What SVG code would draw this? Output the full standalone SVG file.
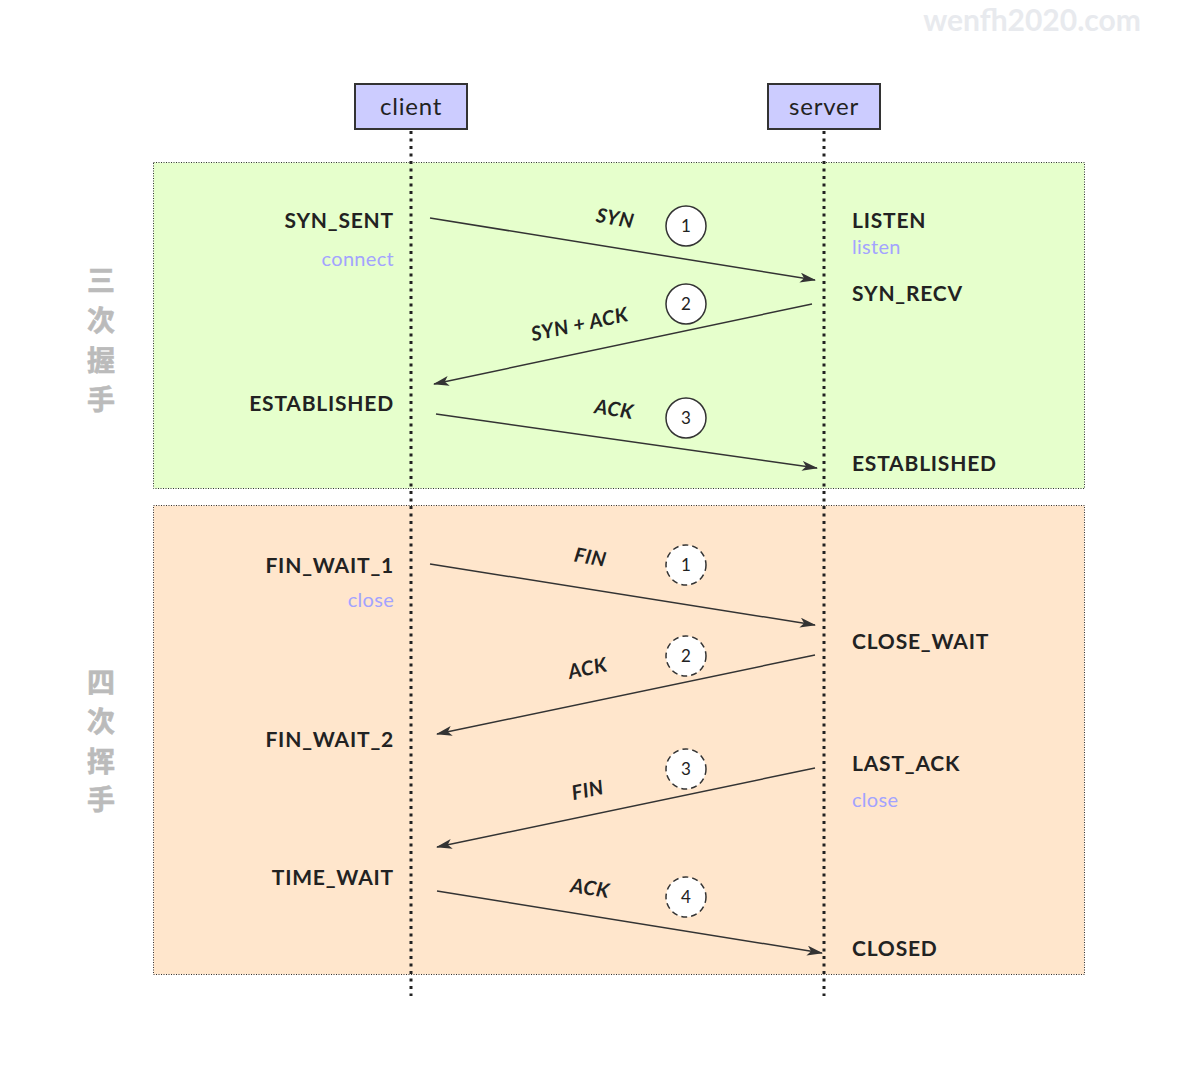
<svg xmlns="http://www.w3.org/2000/svg" width="1197" height="1066" viewBox="0 0 1197 1066">
<style>
.t{font-family:"Lato","Noto Sans",sans-serif;font-size:21px;fill:#222;font-weight:bold;letter-spacing:0.8px}
.r{text-anchor:end}
.f{fill:#a3a3ff;font-weight:normal;font-size:20px;letter-spacing:0.3px}
.lbl{font-family:"Lato","Noto Sans",sans-serif;font-size:20px;fill:#222;font-style:italic;font-weight:bold;text-anchor:middle;letter-spacing:0.5px}
.num{font-family:"Lato","Noto Sans",sans-serif;font-size:17px;fill:#222;text-anchor:middle}
.c{fill:#fff;stroke:#333;stroke-width:1.5}
.cd{fill:#fff;stroke:#333;stroke-width:1.5;stroke-dasharray:6 4}
.msg{stroke:#333;stroke-width:1.5;fill:none;marker-end:url(#ah)}
.life{stroke:#222;stroke-width:3;stroke-dasharray:3 4.5}
.side{font-family:"Noto Sans CJK SC",sans-serif;font-size:28px;font-weight:bold;fill:#bbb;stroke:#bbb;stroke-width:0.6;text-anchor:middle}
</style>
<defs>
<marker id="ah" viewBox="0 0 16 10" refX="15" refY="5" markerWidth="16" markerHeight="10" markerUnits="userSpaceOnUse" orient="auto">
<path d="M0,0 L16,5 L0,10 L4,5 Z" fill="#333"/>
</marker>
</defs>
<rect width="1197" height="1066" fill="#fff"/>
<text x="1032" y="31" font-family="Lato,sans-serif" font-size="30" font-weight="bold" fill="#e8eaee" text-anchor="middle">wenfh2020.com</text>
<g id="phase-handshake">
<rect x="153.5" y="162.5" width="931" height="326" fill="#e6ffcc" stroke="#333" stroke-width="1" stroke-dasharray="1 1.5"/>
<text class="side" x="101" y="291">三</text>
<text class="side" x="101" y="331">次</text>
<text class="side" x="101" y="371">握</text>
<text class="side" x="101" y="410">手</text>
</g>
<g id="phase-wave">
<rect x="153.5" y="505.5" width="931" height="469" fill="#ffe6cc" stroke="#333" stroke-width="1" stroke-dasharray="1 1.5"/>
<text class="side" x="101" y="693">四</text>
<text class="side" x="101" y="732">次</text>
<text class="side" x="101" y="772">挥</text>
<text class="side" x="101" y="810">手</text>
</g>
<g id="lifelines">
<line class="life" x1="411" y1="131" x2="411" y2="996"/>
<line class="life" x1="824" y1="131" x2="824" y2="996"/>
</g>
<g id="client">
<rect x="355" y="84" width="112" height="45" fill="#ccccff" stroke="#333" stroke-width="2"/>
<text class="t" x="411" y="115" text-anchor="middle" style="font-size:24px;font-weight:normal">client</text>
</g>
<g id="server">
<rect x="768" y="84" width="112" height="45" fill="#ccccff" stroke="#333" stroke-width="2"/>
<text class="t" x="824" y="115" text-anchor="middle" style="font-size:24px;font-weight:normal">server</text>
</g>
<g id="client-states">
<text class="t r" x="394" y="228">SYN_SENT</text>
<text class="t r f" x="394" y="266">connect</text>
<text class="t r" x="394" y="411">ESTABLISHED</text>
<text class="t r" x="394" y="573">FIN_WAIT_1</text>
<text class="t r f" x="394" y="607">close</text>
<text class="t r" x="394" y="747">FIN_WAIT_2</text>
<text class="t r" x="394" y="885">TIME_WAIT</text>
</g>
<g id="server-states">
<text class="t" x="852" y="228">LISTEN</text>
<text class="t f" x="852" y="254">listen</text>
<text class="t" x="852" y="301">SYN_RECV</text>
<text class="t" x="852" y="471">ESTABLISHED</text>
<text class="t" x="852" y="649">CLOSE_WAIT</text>
<text class="t" x="852" y="771">LAST_ACK</text>
<text class="t f" x="852" y="807">close</text>
<text class="t" x="852" y="956">CLOSED</text>
</g>
<g id="connectors">
<line class="msg" x1="430" y1="218" x2="815" y2="280"/>
<line class="msg" x1="812" y1="304" x2="434" y2="384"/>
<line class="msg" x1="436" y1="414" x2="817" y2="468"/>
<line class="msg" x1="430" y1="564" x2="815" y2="625"/>
<line class="msg" x1="815" y1="655" x2="437" y2="734"/>
<line class="msg" x1="815" y1="768" x2="437" y2="847"/>
<line class="msg" x1="437" y1="891" x2="822" y2="953"/>
</g>
<g id="labels">
<text class="lbl" transform="translate(614,225) rotate(10)">SYN</text>
<text class="lbl" transform="translate(581,331) rotate(-12)">SYN + ACK</text>
<text class="lbl" transform="translate(613,416) rotate(9)">ACK</text>
<text class="lbl" transform="translate(589,564) rotate(10)">FIN</text>
<text class="lbl" transform="translate(589,675) rotate(-12)">ACK</text>
<text class="lbl" transform="translate(589,797) rotate(-12)">FIN</text>
<text class="lbl" transform="translate(589,895) rotate(9)">ACK</text>
</g>
<g id="steps">
<circle class="c" cx="686" cy="226" r="20"/><text class="num" x="686" y="232">1</text>
<circle class="c" cx="686" cy="304" r="20"/><text class="num" x="686" y="310">2</text>
<circle class="c" cx="686" cy="418" r="20"/><text class="num" x="686" y="424">3</text>
<circle class="cd" cx="686" cy="565" r="20"/><text class="num" x="686" y="571">1</text>
<circle class="cd" cx="686" cy="656" r="20"/><text class="num" x="686" y="662">2</text>
<circle class="cd" cx="686" cy="769" r="20"/><text class="num" x="686" y="775">3</text>
<circle class="cd" cx="686" cy="897" r="20"/><text class="num" x="686" y="903">4</text>
</g>
</svg>
